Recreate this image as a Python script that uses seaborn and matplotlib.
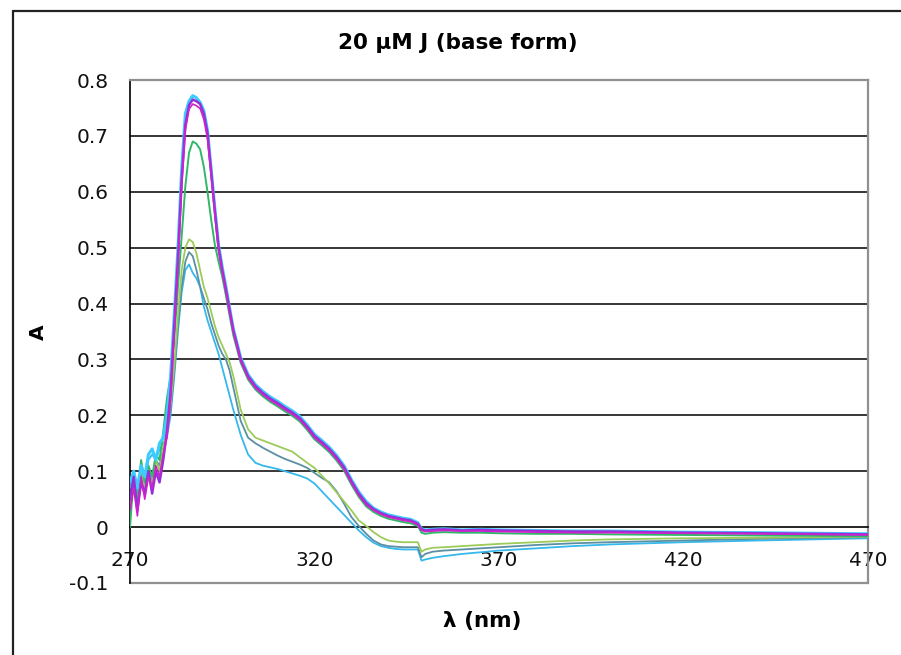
import matplotlib
matplotlib.use("Agg")
import matplotlib.pyplot as plt
from matplotlib.lines import Line2D
import pandas as pd
import seaborn as sns

# Wavelength grid (nm)
wavelength = [270, 271, 272, 273, 274, 275, 276, 277, 278, 279,
              280, 281, 282, 283, 284, 285, 286, 287, 288, 289,
              290, 291, 292, 293, 294, 295, 296, 297, 298,
              300, 302, 304, 306, 308, 310, 312, 314, 316, 318,
              320, 322, 324, 326, 328, 330, 332, 334, 336, 338,
              340, 342, 344, 346, 348,
              349, 350, 352, 355, 360, 365, 370, 380, 390, 400, 420, 440, 470]

# Absorbance spectra
scan_cyan = [0.08, 0.10, 0.07, 0.11, 0.09, 0.13, 0.14, 0.12, 0.15, 0.16,
             0.20, 0.27, 0.38, 0.50, 0.64, 0.74, 0.762, 0.772, 0.768, 0.760,
             0.745, 0.71, 0.64, 0.57, 0.505, 0.465, 0.43, 0.392, 0.355,
             0.303, 0.273, 0.255, 0.243, 0.233, 0.225, 0.216, 0.208, 0.198, 0.183,
             0.166, 0.155, 0.143, 0.128, 0.110, 0.085, 0.063, 0.046, 0.034, 0.027,
             0.022, 0.019, 0.016, 0.014, 0.008,
             -0.003, -0.005, -0.004, -0.003, -0.005, -0.004, -0.005, -0.006, -0.007, -0.007, -0.009, -0.010, -0.012]

scan_purple = [0.05, 0.09, 0.03, 0.08, 0.06, 0.10, 0.06, 0.10, 0.08, 0.12,
               0.17, 0.24, 0.36, 0.48, 0.62, 0.72, 0.755, 0.765, 0.762, 0.757,
               0.74, 0.705, 0.635, 0.565, 0.50, 0.46, 0.425, 0.388, 0.352,
               0.30, 0.27, 0.252, 0.24, 0.23, 0.222, 0.213, 0.205, 0.195, 0.18,
               0.163, 0.152, 0.14, 0.125, 0.107, 0.082, 0.060, 0.043, 0.032, 0.025,
               0.020, 0.017, 0.014, 0.012, 0.006,
               -0.004, -0.006, -0.005, -0.004, -0.006, -0.005, -0.006, -0.007, -0.008, -0.008, -0.010, -0.011, -0.013]

scan_magenta = [0.03, 0.07, 0.02, 0.09, 0.05, 0.09, 0.07, 0.11, 0.09, 0.13,
                0.16, 0.23, 0.35, 0.47, 0.61, 0.71, 0.748, 0.757, 0.754, 0.749,
                0.73, 0.695, 0.63, 0.56, 0.495, 0.457, 0.422, 0.385, 0.35,
                0.297, 0.267, 0.249, 0.237, 0.227, 0.219, 0.21, 0.202, 0.192, 0.177,
                0.16, 0.149, 0.137, 0.122, 0.104, 0.079, 0.057, 0.04, 0.03, 0.023,
                0.018, 0.015, 0.012, 0.010, 0.004,
                -0.006, -0.008, -0.007, -0.006, -0.007, -0.007, -0.008, -0.009, -0.010, -0.010, -0.011, -0.012, -0.014]

scan_green = [0.00, 0.09, 0.04, 0.12, 0.08, 0.11, 0.09, 0.13, 0.12, 0.17,
              0.23, 0.27, 0.34, 0.43, 0.52, 0.61, 0.67, 0.69, 0.686, 0.676,
              0.645, 0.60, 0.55, 0.505, 0.475, 0.448, 0.414, 0.378, 0.343,
              0.294, 0.264, 0.246, 0.234, 0.224, 0.216, 0.207, 0.199, 0.189, 0.174,
              0.157, 0.146, 0.134, 0.119, 0.101, 0.076, 0.054, 0.037, 0.027, 0.02,
              0.015, 0.012, 0.009, 0.007, 0.002,
              -0.010, -0.012, -0.010, -0.009, -0.010, -0.010, -0.011, -0.012, -0.012, -0.013, -0.014, -0.015, -0.016]

scan_lime = [0.02, 0.10, 0.03, 0.11, 0.07, 0.09, 0.08, 0.12, 0.10, 0.14,
             0.18, 0.22, 0.29, 0.38, 0.46, 0.50, 0.515, 0.51, 0.49, 0.46,
             0.43, 0.41, 0.385, 0.36, 0.34, 0.325, 0.31, 0.295, 0.27,
             0.21, 0.175, 0.16, 0.155, 0.15, 0.145, 0.14, 0.135, 0.125, 0.115,
             0.106, 0.092, 0.078, 0.062, 0.046, 0.030, 0.012, 0.002, -0.009, -0.018,
             -0.024, -0.026, -0.027, -0.027, -0.027,
             -0.044, -0.040, -0.037, -0.036, -0.034, -0.032, -0.030, -0.027, -0.024, -0.022, -0.020, -0.019, -0.017]

scan_teal = [0.05, 0.08, 0.04, 0.10, 0.06, 0.10, 0.08, 0.12, 0.11, 0.14,
             0.17, 0.21, 0.28, 0.36, 0.43, 0.475, 0.492, 0.485, 0.46, 0.43,
             0.41, 0.39, 0.365, 0.345, 0.325, 0.31, 0.30, 0.28, 0.25,
             0.19, 0.16, 0.15, 0.142, 0.135, 0.128, 0.122, 0.117, 0.112, 0.106,
             0.097, 0.088, 0.08, 0.064, 0.042, 0.018, 0.002, -0.012, -0.024, -0.031,
             -0.034, -0.035, -0.036, -0.036, -0.036,
             -0.054, -0.048, -0.044, -0.042, -0.040, -0.038, -0.036, -0.032, -0.029, -0.027, -0.024, -0.021, -0.018]

scan_sky = [0.07, 0.09, 0.06, 0.10, 0.08, 0.12, 0.13, 0.12, 0.14, 0.15,
            0.16, 0.20, 0.27, 0.35, 0.42, 0.46, 0.47, 0.455, 0.445, 0.43,
            0.395, 0.37, 0.35, 0.33, 0.31, 0.285, 0.26, 0.235, 0.21,
            0.165, 0.13, 0.115, 0.11, 0.107, 0.104, 0.10, 0.096, 0.092, 0.087,
            0.078, 0.064, 0.050, 0.036, 0.022, 0.008, -0.006, -0.018, -0.028, -0.034,
            -0.037, -0.039, -0.040, -0.040, -0.040,
            -0.060, -0.058, -0.055, -0.052, -0.048, -0.045, -0.042, -0.038, -0.034, -0.031, -0.027, -0.024, -0.020]

series = {
    "sky": scan_sky,
    "teal": scan_teal,
    "lime": scan_lime,
    "green": scan_green,
    "cyan": scan_cyan,
    "purple": scan_purple,
    "magenta": scan_magenta,
}
colors = {
    "sky": "#35B8EC",
    "teal": "#5B8FA3",
    "lime": "#9CCB5A",
    "green": "#30B868",
    "cyan": "#3CCBFF",
    "purple": "#9530D8",
    "magenta": "#CC22CC",
}
widths = {"sky": 1.3, "teal": 1.3, "lime": 1.3, "green": 1.4,
          "cyan": 2.2, "purple": 1.8, "magenta": 1.2}

df = pd.concat(
    [pd.DataFrame({"wavelength": wavelength, "A": vals, "scan": name})
     for name, vals in series.items()],
    ignore_index=True,
)

sns.set_style("white")
plt.rcParams["font.family"] = ["DejaVu Sans"]
plt.rcParams["text.color"] = "black"
plt.rcParams["xtick.color"] = "black"
plt.rcParams["ytick.color"] = "black"

fig = plt.figure(figsize=(9.01, 6.55), dpi=100)
ax = fig.add_axes([130 / 901, 1 - 583 / 655, (868 - 130) / 901, (583 - 80) / 655])

# horizontal gridlines
for yv in [0.1, 0.2, 0.3, 0.4, 0.5, 0.6, 0.7]:
    ax.axhline(yv, color="black", lw=1.1, zorder=1)

for name in series:
    sns.lineplot(data=df[df["scan"] == name], x="wavelength", y="A",
                 color=colors[name], lw=widths[name], ax=ax,
                 legend=False, zorder=3, estimator=None)

ax.set_xlim(270, 470)
ax.set_ylim(-0.1, 0.8)
ax.set_xticks([270, 320, 370, 420, 470])
ax.set_yticks([-0.1, 0, 0.1, 0.2, 0.3, 0.4, 0.5, 0.6, 0.7, 0.8])
ax.set_yticklabels(["-0.1", "0", "0.1", "0.2", "0.3", "0.4", "0.5", "0.6", "0.7", "0.8"])
ax.set_xlabel("")
ax.set_ylabel("")

# axis lines: x-axis crosses at zero, plot-area border in grey
ax.spines["bottom"].set_position(("data", 0))
ax.spines["bottom"].set_color("black")
ax.spines["bottom"].set_linewidth(1.2)
ax.spines["left"].set_color("black")
ax.spines["left"].set_linewidth(1.2)
for s in ["top", "right"]:
    ax.spines[s].set_color("#909090")
    ax.spines[s].set_linewidth(1.6)
ax.axhline(-0.1, color="#909090", lw=1.6, zorder=2, clip_on=False)

ax.tick_params(axis="x", direction="out", length=6, width=1.1, color="black",
               pad=11, labelsize=14.5, labelcolor="#111111")
ax.tick_params(axis="y", direction="out", length=6.5, width=1.1, color="black",
               pad=9, labelsize=14.5, labelcolor="#111111")

fig.text(458 / 901, 1 - 43 / 655, "20 µM J (base form)", ha="center", va="center",
         fontsize=15.5, fontweight="bold")
fig.text(482 / 901, 1 - 621 / 655, "λ (nm)", ha="center", va="center",
         fontsize=15.5, fontweight="bold")
fig.text(38 / 901, 1 - 332 / 655, "A", ha="center", va="center",
         fontsize=14.5, fontweight="bold", rotation=90)

# chart frame
fig.add_artist(Line2D([12.5 / 901, 12.5 / 901], [0, 1 - 10.5 / 655],
                      transform=fig.transFigure, color="#222222", lw=1.6))
fig.add_artist(Line2D([12.5 / 901, 1], [1 - 10.5 / 655, 1 - 10.5 / 655],
                      transform=fig.transFigure, color="#222222", lw=1.6))

fig.savefig("out.png", dpi=100, facecolor="white")
